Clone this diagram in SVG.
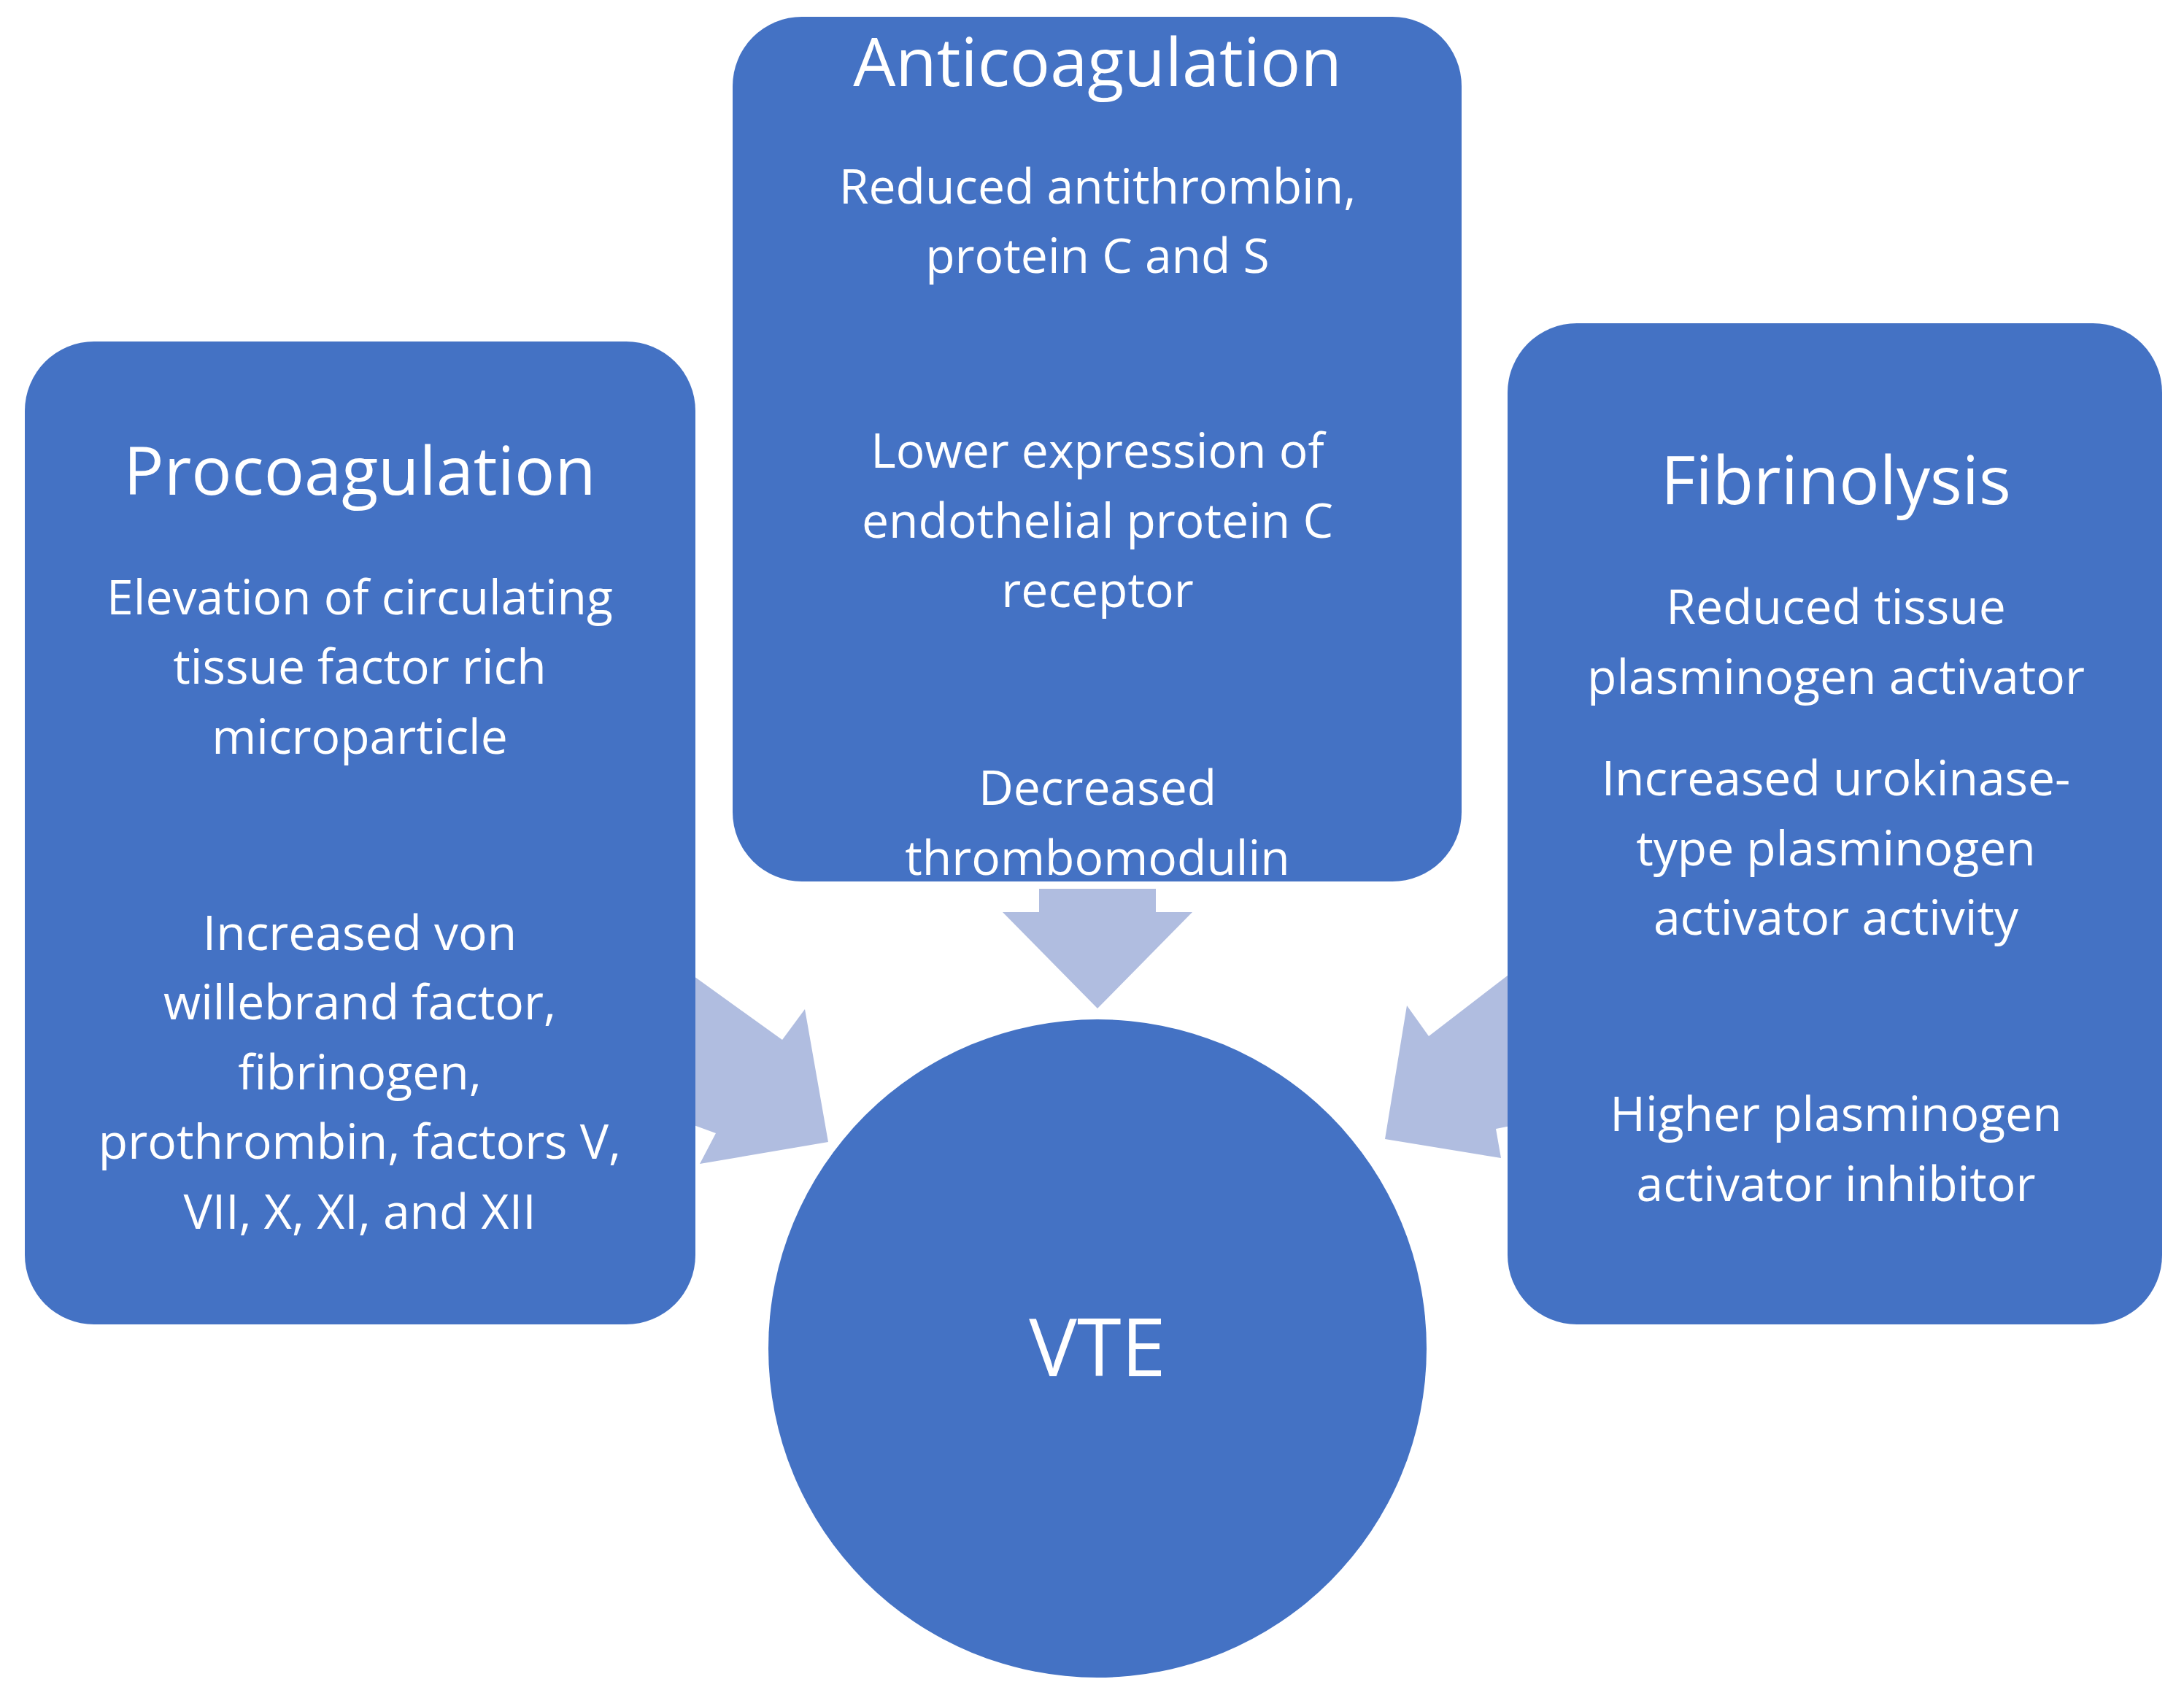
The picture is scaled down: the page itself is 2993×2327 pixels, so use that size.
<svg xmlns="http://www.w3.org/2000/svg" width="2993" height="2327" viewBox="0 0 2993 2327">
<style>
.box{fill:#4472C4}
.arr{fill:#B0BDE0}
text{fill:#fff;font-family:"Open Sans","Liberation Sans",sans-serif;text-anchor:middle}
.t{font-size:92px}
.b{font-size:66px}
</style>
<rect width="2993" height="2327" fill="#fff"/>
<g id="connectors">
<polygon class="arr" points="1424,1218 1584,1218 1584,1250 1634,1250 1504,1382 1374,1250 1424,1250"/>
<polygon class="arr" points="940,1330 1072,1425 1103,1383 1135,1565 959,1595 981,1553 940,1538"/>
<polygon class="arr" points="2075,1330 1958,1420 1928,1378 1898,1561 2057,1587 2050,1547 2075,1542"/>
</g>
<g id="procoagulation">
<rect class="box" x="34" y="468" width="919" height="1347" rx="95"/>
<text class="t" x="493" y="678">Procoagulation</text>
<text class="b" x="493" y="842">Elevation of circulating</text>
<text class="b" x="493" y="937">tissue factor rich</text>
<text class="b" x="493" y="1033">microparticle</text>
<text class="b" x="493" y="1302">Increased von</text>
<text class="b" x="493" y="1397">willebrand factor,</text>
<text class="b" x="493" y="1493">fibrinogen,</text>
<text class="b" x="493" y="1588">prothrombin, factors V,</text>
<text class="b" x="493" y="1684">VII, X, XI, and XII</text>
</g>
<g id="anticoagulation">
<rect class="box" x="1004" y="23" width="999" height="1185" rx="95"/>
<text class="t" x="1504" y="118">Anticoagulation</text>
<text class="b" x="1504" y="279">Reduced antithrombin,</text>
<text class="b" x="1504" y="374">protein C and S</text>
<text class="b" x="1504" y="641">Lower expression of</text>
<text class="b" x="1504" y="737">endothelial protein C</text>
<text class="b" x="1504" y="832">receptor</text>
<text class="b" x="1504" y="1103">Decreased</text>
<text class="b" x="1504" y="1199">thrombomodulin</text>
</g>
<g id="fibrinolysis">
<rect class="box" x="2066" y="443" width="897" height="1372" rx="95"/>
<text class="t" x="2516" y="691">Fibrinolysis</text>
<text class="b" x="2516" y="855">Reduced tissue</text>
<text class="b" x="2516" y="951">plasminogen activator</text>
<text class="b" x="2516" y="1090">Increased urokinase-</text>
<text class="b" x="2516" y="1186">type plasminogen</text>
<text class="b" x="2516" y="1281">activator activity</text>
<text class="b" x="2516" y="1550">Higher plasminogen</text>
<text class="b" x="2516" y="1646">activator inhibitor</text>
</g>
<g id="vte">
<circle class="box" cx="1504" cy="1848" r="451"/>
<text x="1504" y="1886" font-size="110">VTE</text>
</g>
</svg>
